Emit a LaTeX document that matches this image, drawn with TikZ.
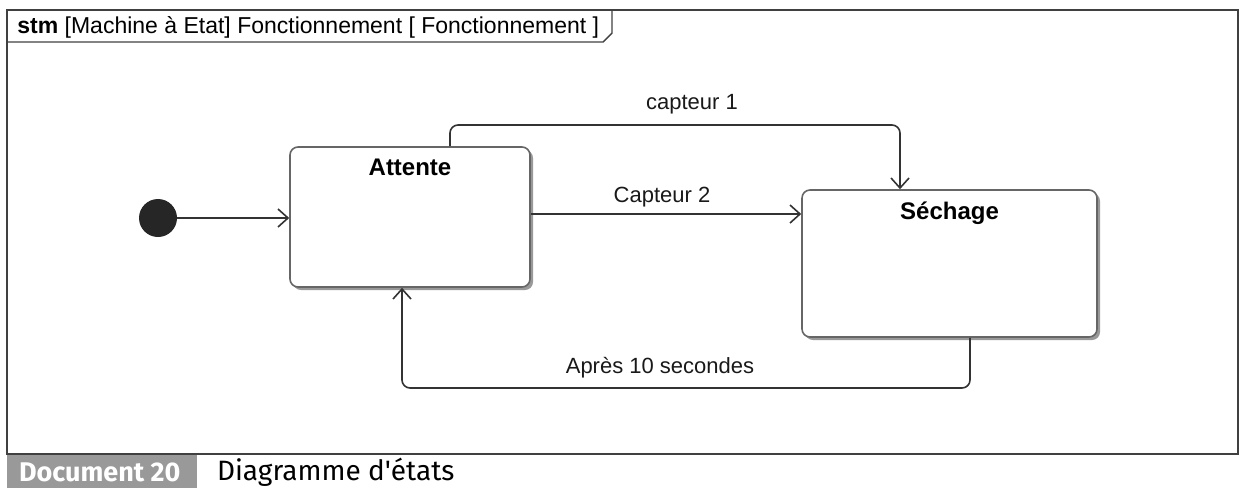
\documentclass[tikz,border=0pt]{standalone}
\usepackage{fontspec}
\setmainfont{Liberation Sans}
\newfontfamily\capfont{Fira Sans}
\usetikzlibrary{arrows.meta,shadows}

\tikzset{
	etat/.style={draw=black!60, line width=0.8pt, fill=white, rounded corners=4pt,
		drop shadow={shadow xshift=1.5pt, shadow yshift=-1.5pt, fill=black!40, opacity=1}},
	trans/.style={draw=black!80, line width=0.8pt, -{Straight Barb[length=5pt,width=9pt]}},
	etiq/.style={font=\fontsize{11}{13}\selectfont, text=black!90}
}

\begin{document}
\begin{tikzpicture}[x=0.5pt, y=-0.5pt]
		\useasboundingbox (0,0) rectangle (1245,488);

		% cadre
		\draw[black!75, line width=0.7pt] (7,10) rectangle (1238,454);
		\draw[black!75, line width=0.7pt] (7,42) -- (603,42) -- (612,33) -- (612,10);
		\node[anchor=west, inner sep=0pt, font=\fontsize{11.5}{13}\selectfont] (titre) at (17,27)
			{\textbf{stm} [Machine à Etat] Fonctionnement [ Fonctionnement ]};

		% etats
		\node[circle, fill=black!85, minimum size=19pt, inner sep=0pt] (init) at (158,218) {};
		\node[etat, minimum width=120pt, minimum height=70pt] (attente) at (410,217) {};
		\node[etat, minimum width=147.5pt, minimum height=73.5pt] (sechage) at (949.5,263.5) {};
		\node[below=3pt, font=\fontsize{12}{14}\selectfont\bfseries] (nomA) at (attente.north) {Attente};
		\node[below=3pt, font=\fontsize{12}{14}\selectfont\bfseries] (nomS) at (sechage.north) {Séchage};

		% transitions
		\coordinate (haut) at (675,125);
		\coordinate (bas) at (675,388);
		\draw[trans] (init) -- (init -| attente.west);
		\draw[trans, rounded corners=4pt] ([xshift=20pt]attente.north) |- (haut) -| ([xshift=-24.75pt]sechage.north);
		\draw[trans] ([yshift=1.5pt]attente.east) -- ([yshift=1.5pt]attente.east -| sechage.west);
		\draw[trans, rounded corners=4pt] ([xshift=10.25pt]sechage.south) |- (bas) -| ([xshift=-4pt]attente.south);

		\node[etiq] (e1) at (692,104) {capteur 1};
		\node[etiq] (e2) at (662,197) {Capteur 2};
		\node[etiq] (e3) at (660,368) {Après 10 secondes};

		% legende
		\fill[black!40] (7,455) rectangle (197,488);
		\node[anchor=west, text=white, font=\capfont\bfseries\fontsize{13.5}{16}\selectfont] (doc) at (12,472) {Document 20};
		\node[anchor=west, font=\capfont\fontsize{14}{16}\selectfont] (legende) at (210,472) {Diagramme d'états};

	\end{tikzpicture}
\end{document}
